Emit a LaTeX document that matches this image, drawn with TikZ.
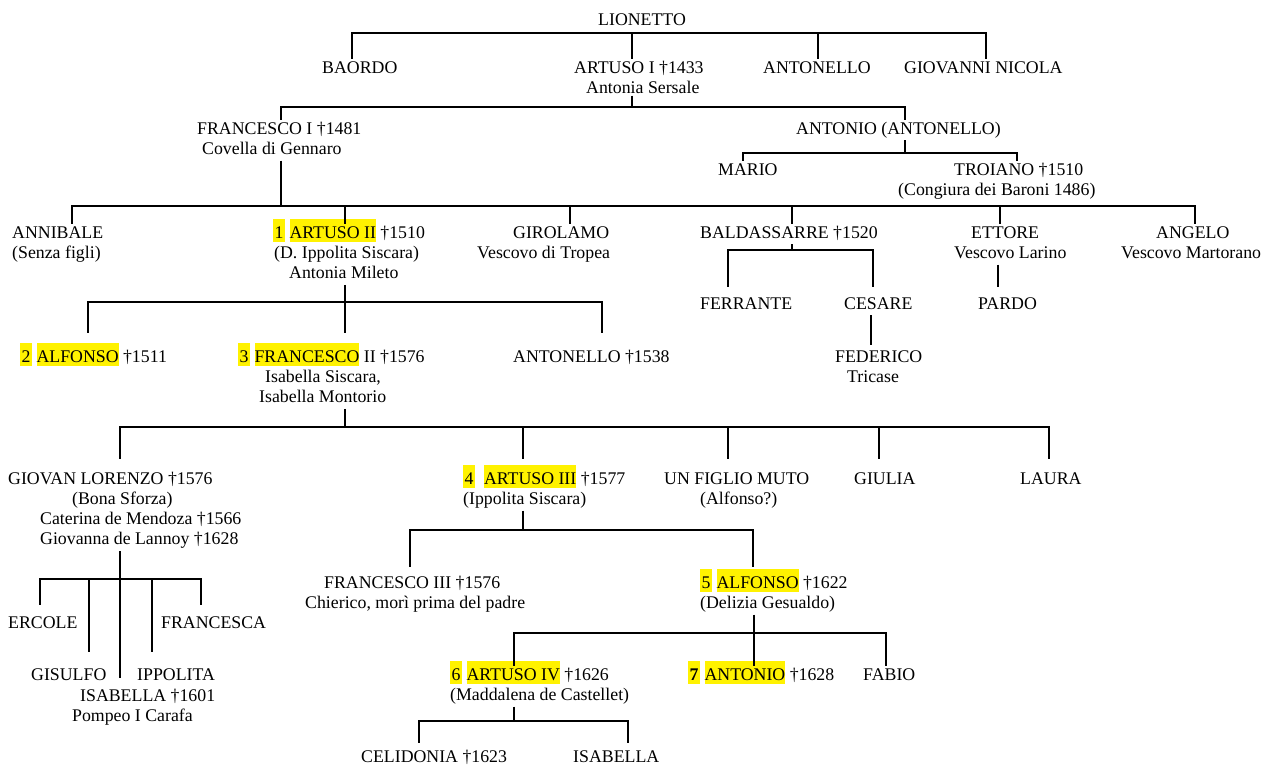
\documentclass[tikz,border=0pt]{standalone}
\usepackage{fontspec}
\setmainfont{Liberation Serif}
\usepackage{tikz}
\tikzstyle{person} = [anchor=base west,
                      inner sep=0pt,
                      font=\fontsize{17.8}{20.3}\selectfont]
\tikzstyle{link}   = [draw, line width=1.4pt]
\setlength{\fboxsep}{0pt}
\newcommand{\hlt}[1]{\smash{\colorbox{yellow}{\rule[-4pt]{0pt}{23pt}#1}}}
\newcommand{\hlnum}[1]{\hlt{\kern1.5pt#1\kern1.5pt}}

\begin{document}
\begin{tikzpicture}[%
  x=1pt,
  y=-1pt
  ]
  \useasboundingbox (0,0) rectangle (1269,764);

  % Nodes:
  \node (lionetto) [person] at (598,25) {\strut LIONETTO};

  \node (baordo) [person] at (322,73) {\strut BAORDO};
  \node (artuso-i) [person] at (574,73) {\begin{tabular}[t]{@{}l@{}}ARTUSO I †1433\\\hspace*{12pt}Antonia Sersale\end{tabular}};
  \node (antonello-i) [person] at (763,73) {\strut ANTONELLO};
  \node (giovanni) [person] at (904,73) {\strut GIOVANNI NICOLA};

  \node (francesco-i) [person] at (197,134) {\begin{tabular}[t]{@{}l@{}}FRANCESCO I †1481\\\hspace*{5pt}Covella di Gennaro\end{tabular}};
  \node (antonio) [person] at (796,134) {\strut ANTONIO (ANTONELLO)};
  \node (mario) [person] at (718,175) {\strut MARIO};
  \node (troiano) [person] at (898,175) {\begin{tabular}[t]{@{}l@{}}\hspace*{56pt}TROIANO †1510\\(Congiura dei Baroni 1486)\end{tabular}};

  \node (annibale) [person] at (12,238) {\begin{tabular}[t]{@{}l@{}}ANNIBALE\\(Senza figli)\end{tabular}};
  \node (artuso-ii) [person] at (273,238) {\begin{tabular}[t]{@{}l@{}}\hlnum{1} \hlt{ARTUSO II} †1510\\\hspace*{1pt}(D. Ippolita Siscara)\\\hspace*{16pt}Antonia Mileto\end{tabular}};
  \node (girolamo) [person] at (477,238) {\begin{tabular}[t]{@{}l@{}}\hspace*{36pt}GIROLAMO\\Vescovo di Tropea\end{tabular}};
  \node (baldassarre) [person] at (700,238) {\strut BALDASSARRE †1520};
  \node (ettore) [person] at (954,238) {\begin{tabular}[t]{@{}l@{}}\hspace*{17pt}ETTORE\\Vescovo Larino\end{tabular}};
  \node (angelo) [person] at (1121,238) {\begin{tabular}[t]{@{}l@{}}\hspace*{35pt}ANGELO\\Vescovo Martorano\end{tabular}};

  \node (ferrante) [person] at (700,309) {\strut FERRANTE};
  \node (cesare) [person] at (844,309) {\strut CESARE};
  \node (pardo) [person] at (978,309) {\strut PARDO};
  \node (federico) [person] at (835,362) {\begin{tabular}[t]{@{}l@{}}FEDERICO\\\hspace*{12pt}Tricase\end{tabular}};

  \node (alfonso-ii) [person] at (20,362) {\strut\hlnum{2} \hlt{ALFONSO} †1511};
  \node (francesco-ii) [person] at (238,362) {\begin{tabular}[t]{@{}l@{}}\hlnum{3} \hlt{FRANCESCO} II †1576\\\hspace*{27pt}Isabella Siscara,\\\hspace*{21pt}Isabella Montorio\end{tabular}};
  \node (antonello-ii) [person] at (513,362) {\strut ANTONELLO †1538};

  \node (giovan-lorenzo) [person] at (8,484) {\begin{tabular}[t]{@{}l@{}}GIOVAN LORENZO †1576\\\hspace*{64pt}(Bona Sforza)\\\hspace*{32pt}Caterina de Mendoza †1566\\\hspace*{32pt}Giovanna de Lannoy †1628\end{tabular}};
  \node (artuso-iii) [person] at (463,484) {\begin{tabular}[t]{@{}l@{}}\hlnum{4}\ \ \hlt{ARTUSO III} †1577\\(Ippolita Siscara)\end{tabular}};
  \node (un-figlio) [person] at (664,484) {\begin{tabular}[t]{@{}l@{}}UN FIGLIO MUTO\\\hspace*{36pt}(Alfonso?)\end{tabular}};
  \node (giulia) [person] at (854,484) {\strut GIULIA};
  \node (laura) [person] at (1020,484) {\strut LAURA};

  \node (ercole) [person] at (8,628) {\strut ERCOLE};
  \node (francesca) [person] at (161,628) {\strut FRANCESCA};
  \node (gisulfo) [person] at (31,680) {\strut GISULFO};
  \node (ippolita) [person] at (137,680) {\strut IPPOLITA};
  \node (isabella-i) [person] at (72,701) {\begin{tabular}[t]{@{}l@{}}\hspace*{8pt}ISABELLA †1601\\Pompeo I Carafa\end{tabular}};

  \node (francesco-iii) [person] at (305,588) {\begin{tabular}[t]{@{}l@{}}\hspace*{19pt}FRANCESCO III †1576\\Chierico, morì prima del padre\end{tabular}};
  \node (alfonso-v) [person] at (700,588) {\begin{tabular}[t]{@{}l@{}}\hlnum{5} \hlt{ALFONSO} †1622\\(Delizia Gesualdo)\end{tabular}};

  \node (artuso-iv) [person] at (450,680) {\begin{tabular}[t]{@{}l@{}}\hlnum{6} \hlt{ARTUSO IV} †1626\\(Maddalena de Castellet)\end{tabular}};
  \node (antonio-vii) [person] at (688,680) {\strut\hlnum{\textbf{7}} \hlt{ANTONIO} †1628};
  \node (fabio) [person] at (863,680) {\strut FABIO};

  \node (celidonia) [person] at (361,762) {\strut CELIDONIA †1623};
  \node (isabella-ii) [person] at (573,762) {\strut ISABELLA};

  % Connectors:
  \draw[link] (baordo.north -| 352,0) -- (352,33) -- (986,33) -- (giovanni.north -| 986,0);
  \draw[link] (632,33) -- (artuso-i.north -| 632,0);
  \draw[link] (818,33) -- (antonello-i.north -| 818,0);

  \draw[link] ([yshift=4pt]artuso-i.south -| 632,0) -- (632,107);
  \draw[link] (francesco-i.north -| 281,0) -- (281,107) -- (905,107) -- (antonio.north -| 905,0);

  \draw[link] (antonio.south -| 905,0) -- (905,153);
  \draw[link] (mario.north -| 743,0) -- (743,153) -- (1017,153) -- (troiano.north -| 1017,0);

  \draw[link] (francesco-i.south -| 281,0) -- (281,206);
  \draw[link] (annibale.north -| 72,0) -- (72,206) -- (1195,206) -- (angelo.north -| 1195,0);
  \draw[link] (345,206) -- (artuso-ii.north -| 345,0);
  \draw[link] (570,206) -- (girolamo.north -| 570,0);
  \draw[link] (792,206) -- (baldassarre.north -| 792,0);
  \draw[link] (1000,206) -- (ettore.north -| 1000,0);

  \draw[link] (baldassarre.south -| 792,0) -- (792,250);
  \draw[link] ([yshift=8pt]ferrante.north -| 728,0) -- (728,250) -- (873,250) -- ([yshift=8pt]cesare.north -| 873,0);
  \draw[link] (ettore.south -| 998,0) -- ([yshift=8pt]pardo.north -| 998,0);
  \draw[link] (cesare.south -| 871,0) -- ([yshift=3pt]federico.north -| 871,0);

  \draw[link] (artuso-ii.south -| 345,0) -- (345,302);
  \draw[link] ([yshift=15pt]alfonso-ii.north -| 88,0) -- (88,302) -- (602,302) -- ([yshift=15pt]antonello-ii.north -| 602,0);
  \draw[link] (345,302) -- ([yshift=15pt]francesco-ii.north -| 345,0);

  \draw[link] (francesco-ii.south -| 345,0) -- (345,427);
  \draw[link] ([yshift=11pt]giovan-lorenzo.north -| 120,0) -- (120,427) -- (1049,427) -- ([yshift=11pt]laura.north -| 1049,0);
  \draw[link] (523,427) -- ([yshift=11pt]artuso-iii.north -| 523,0);
  \draw[link] (728,427) -- ([yshift=11pt]un-figlio.north -| 728,0);
  \draw[link] (879,427) -- ([yshift=11pt]giulia.north -| 879,0);

  \draw[link] (giovan-lorenzo.south -| 120,0) -- ([yshift=9pt]isabella-i.north -| 120,0);
  \draw[link] ([yshift=9pt]ercole.north -| 40,0) -- (40,579) -- (201,579) -- ([yshift=9pt]francesca.north -| 201,0);
  \draw[link] (89,579) -- ([yshift=14pt]gisulfo.north -| 89,0);
  \draw[link] (152,579) -- ([yshift=14pt]ippolita.north -| 152,0);

  \draw[link] (artuso-iii.south -| 523,0) -- (523,530);
  \draw[link] ([yshift=7pt]francesco-iii.north -| 410,0) -- (410,530) -- (753,530) -- ([yshift=7pt]alfonso-v.north -| 753,0);

  \draw[link] (alfonso-v.south -| 754,0) -- (754,633);
  \draw[link] (artuso-iv.north -| 514,0) -- (514,633) -- (886,633) -- (fabio.north -| 886,0);
  \draw[link] (754,633) -- (antonio-vii.north -| 754,0);

  \draw[link] (artuso-iv.south -| 514,0) -- (514,721);
  \draw[link] ([yshift=5pt]celidonia.north -| 419,0) -- (419,721) -- (628,721) -- ([yshift=5pt]isabella-ii.north -| 628,0);
\end{tikzpicture}
\end{document}
